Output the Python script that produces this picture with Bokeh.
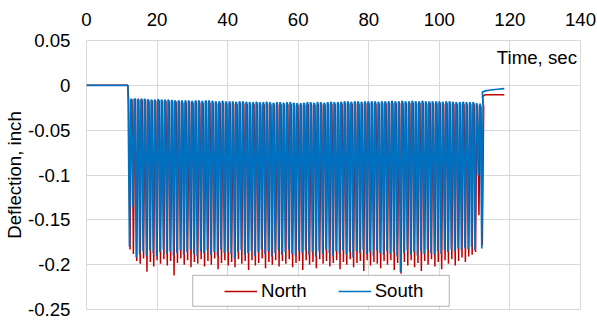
import math
from bokeh.plotting import figure
from bokeh.models import (FixedTicker, CustomJSTickFormatter, Label, Legend, LegendItem,
                          BoxAnnotation, Title)
from bokeh.embed import file_html
from bokeh.resources import INLINE

# ---------------- data ----------------
X_TICKS = [0, 20, 40, 60, 80, 100, 120, 140]
Y_TICKS = [-0.25, -0.2, -0.15, -0.1, -0.05, 0, 0.05]

T_REST_END = 11.7      # end of the initial rest (s)
T_CYCLE0 = 11.8        # first loading cycle (s)
PERIOD = 0.96          # loading period (s)

south_peak = [
    -0.016, -0.015, -0.016, -0.016, -0.015, -0.016, -0.016, -0.017, -0.016, -0.016, -0.017, -0.016, -0.017, -0.017, -0.018,
    -0.017, -0.018, -0.017, -0.018, -0.018, -0.017, -0.018, -0.018, -0.017, -0.018, -0.018, -0.019, -0.018, -0.018, -0.019,
    -0.018, -0.019, -0.019, -0.018, -0.019, -0.019, -0.020, -0.019, -0.019, -0.020, -0.019, -0.019, -0.020, -0.020, -0.019,
    -0.020, -0.020, -0.019, -0.020, -0.020, -0.021, -0.020, -0.020, -0.019, -0.020, -0.020, -0.019, -0.020, -0.020, -0.019,
    -0.019, -0.020, -0.019, -0.019, -0.018, -0.019, -0.019, -0.018, -0.019, -0.019, -0.018, -0.019, -0.018, -0.019, -0.019,
    -0.018, -0.019, -0.018, -0.018, -0.019, -0.018, -0.018, -0.019, -0.018, -0.018, -0.019, -0.018, -0.018, -0.019, -0.018,
    -0.019, -0.018, -0.019, -0.019, -0.018, -0.019, -0.019, -0.020, -0.019, -0.019, -0.020, -0.019, -0.020, -0.021, -0.021,
]
south_trough = [
    -0.180, -0.135, -0.192, -0.188, -0.185, -0.190, -0.184, -0.187, -0.191, -0.186, -0.183, -0.188, -0.185, -0.190, -0.187,
    -0.184, -0.189, -0.186, -0.183, -0.188, -0.191, -0.185, -0.187, -0.184, -0.189, -0.186, -0.190, -0.183, -0.187, -0.185,
    -0.188, -0.193, -0.186, -0.184, -0.189, -0.187, -0.185, -0.190, -0.186, -0.183, -0.188, -0.185, -0.191, -0.187, -0.184,
    -0.189, -0.186, -0.183, -0.188, -0.190, -0.185, -0.187, -0.184, -0.189, -0.186, -0.191, -0.185, -0.188, -0.183, -0.187,
    -0.190, -0.185, -0.188, -0.184, -0.189, -0.186, -0.192, -0.185, -0.187, -0.183, -0.188, -0.186, -0.190, -0.184, -0.187,
    -0.189, -0.185, -0.188, -0.186, -0.191, -0.208, -0.187, -0.184, -0.189, -0.186, -0.190, -0.185, -0.188, -0.183, -0.187,
    -0.189, -0.185, -0.188, -0.184, -0.186, -0.183, -0.185, -0.182, -0.184, -0.181, -0.183, -0.180, -0.184, -0.100, -0.182,
]
north_peak = [
    -0.017, -0.016, -0.015, -0.017, -0.016, -0.017, -0.018, -0.017, -0.018, -0.017, -0.018, -0.018, -0.019, -0.018, -0.019,
    -0.019, -0.020, -0.019, -0.019, -0.020, -0.019, -0.020, -0.020, -0.019, -0.020, -0.020, -0.021, -0.020, -0.020, -0.021,
    -0.020, -0.021, -0.021, -0.020, -0.021, -0.021, -0.022, -0.021, -0.021, -0.022, -0.021, -0.021, -0.022, -0.022, -0.021,
    -0.022, -0.022, -0.021, -0.022, -0.022, -0.023, -0.022, -0.022, -0.021, -0.022, -0.022, -0.021, -0.022, -0.022, -0.021,
    -0.021, -0.022, -0.021, -0.021, -0.020, -0.021, -0.021, -0.020, -0.021, -0.021, -0.020, -0.021, -0.020, -0.021, -0.021,
    -0.020, -0.021, -0.020, -0.020, -0.021, -0.020, -0.020, -0.021, -0.020, -0.020, -0.021, -0.020, -0.020, -0.021, -0.020,
    -0.021, -0.020, -0.021, -0.021, -0.020, -0.021, -0.021, -0.022, -0.021, -0.021, -0.022, -0.021, -0.022, -0.023, -0.024,
]
north_trough = [
    -0.183, -0.188, -0.196, -0.199, -0.193, -0.208, -0.197, -0.202, -0.195, -0.199, -0.194, -0.201, -0.196, -0.212, -0.198,
    -0.193, -0.200, -0.195, -0.203, -0.197, -0.199, -0.194, -0.202, -0.196, -0.200, -0.193, -0.205, -0.198, -0.195, -0.201,
    -0.197, -0.203, -0.194, -0.199, -0.196, -0.206, -0.195, -0.201, -0.198, -0.193, -0.204, -0.197, -0.200, -0.195, -0.202,
    -0.196, -0.199, -0.194, -0.203, -0.198, -0.196, -0.206, -0.195, -0.200, -0.197, -0.204, -0.194, -0.199, -0.196, -0.202,
    -0.198, -0.195, -0.205, -0.197, -0.200, -0.194, -0.203, -0.198, -0.196, -0.207, -0.195, -0.201, -0.197, -0.199, -0.204,
    -0.196, -0.200, -0.195, -0.206, -0.198, -0.210, -0.197, -0.201, -0.195, -0.203, -0.198, -0.207, -0.196, -0.200, -0.194,
    -0.202, -0.197, -0.205, -0.195, -0.199, -0.194, -0.201, -0.196, -0.192, -0.197, -0.191, -0.189, -0.186, -0.145, -0.178,
]

south_tail_t = [112.2, 113.0, 114.5, 116.5, 118.4]
south_tail_y = [-0.0075, -0.0062, -0.0052, -0.0044, -0.0037]
north_tail_t = [112.2, 113.0, 118.4]
north_tail_y = [-0.0125, -0.0106, -0.0104]


def build_series(peaks, troughs, tail_t, tail_y, phase):
    t = [0.0, T_REST_END]
    y = [0.0, 0.0]
    n = min(len(peaks), len(troughs))
    for i in range(n):
        t0 = T_CYCLE0 + i * PERIOD + phase
        t += [t0, t0 + 0.4 * PERIOD, t0 + 0.8 * PERIOD]
        y += [peaks[i], troughs[i], peaks[i]]
    t += tail_t
    y += tail_y
    return t, y


nt, ny = build_series(north_peak, north_trough, north_tail_t, north_tail_y, 0.15)
st, sy = build_series(south_peak, south_trough, south_tail_t, south_tail_y, 0.0)

RED = "#C00000"
BLUE = "#0070C0"
FONT = "Liberation Sans"
FS = "14pt"

p = figure(width=597, height=321, x_range=(0, 140), y_range=(-0.25, 0.05),
           x_axis_location="above", output_backend="svg", toolbar_location=None,
           min_border_left=86, min_border_right=17, min_border_top=40, min_border_bottom=12)
p.background_fill_color = "white"
p.border_fill_color = "white"
p.outline_line_color = "#d9d9d9"
p.outline_line_width = 1

for ax in (p.xaxis[0], p.yaxis[0]):
    ax.axis_line_color = None
    ax.major_tick_line_color = None
    ax.minor_tick_line_color = None
    ax.major_tick_out = 0
    ax.major_tick_in = 0
    ax.minor_tick_out = 0
    ax.major_label_text_font = FONT
    ax.major_label_text_font_size = FS
    ax.major_label_text_color = "black"

p.xaxis.ticker = FixedTicker(ticks=X_TICKS)
p.yaxis.ticker = FixedTicker(ticks=Y_TICKS)
p.xaxis.major_label_standoff = 15
p.yaxis.major_label_standoff = 16
p.yaxis.formatter = CustomJSTickFormatter(code="""
    var v = Math.round(tick * 100) / 100;
    if (Math.abs(v) < 1e-9) return '0';
    var s = v.toFixed(2).replace(/0+$/, '').replace(/\\.$/, '');
    return s;
""")

p.xgrid.grid_line_color = "#d9d9d9"
p.ygrid.grid_line_color = "#d9d9d9"
p.xgrid.grid_line_width = 1
p.ygrid.grid_line_width = 1

rn = p.line(nt, ny, line_color=RED, line_width=1.5)
rs = p.line(st, sy, line_color=BLUE, line_width=1.7)

# axis titles
p.add_layout(Title(text="Deflection, inch", align="center", offset=19, standoff=0,
                   text_font=FONT, text_font_size=FS, text_font_style="normal",
                   text_color="black"), "left")
p.add_layout(Label(x=139.0, y=0.0312, text="Time, sec", text_align="right",
                   text_baseline="middle", text_font=FONT, text_font_size=FS,
                   text_color="black"))

# legend box
p.add_layout(BoxAnnotation(left=30.1, right=102.8, top=-0.2119, bottom=-0.2464,
                           fill_color="white", fill_alpha=1.0,
                           line_color="black", line_width=1))
legend = Legend(items=[LegendItem(label="North", renderers=[rn]),
                       LegendItem(label="South", renderers=[rs])],
                orientation="horizontal", location=(138, 7),
                border_line_color=None, background_fill_alpha=0.0,
                padding=0, margin=0, spacing=31, glyph_width=33, label_standoff=4,
                label_text_font=FONT, label_text_font_size=FS, label_text_color="black")
p.add_layout(legend)

open("out.html", "w").write(file_html(p, INLINE))
